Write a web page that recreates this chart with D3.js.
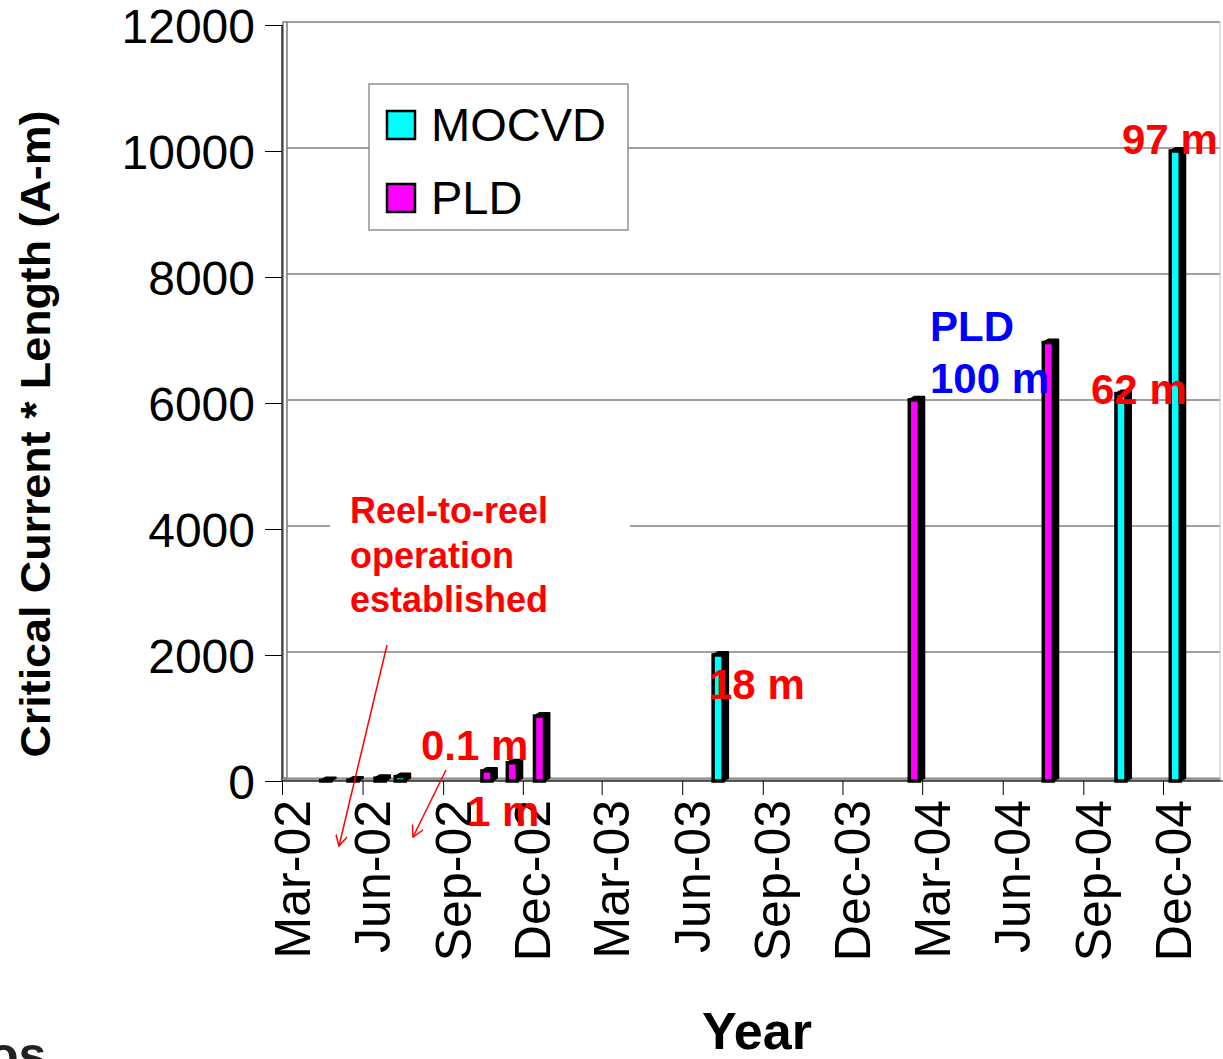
<!DOCTYPE html>
<html>
<head>
<meta charset="utf-8">
<script src="https://cdn.jsdelivr.net/npm/d3@7"></script>
<style>
  body { margin: 0; background: #fff; }
  text { font-family: Arial, "Liberation Sans", sans-serif; }
</style>
</head>
<body>
<div id="chart"></div>
<script>
// data
const seriesNames = ["MOCVD", "PLD"];
const seriesColors = ["#00ffff", "#ff00ff"];

const mocvdDates = ["2002-04-20", "2002-05-21", "2002-06-21", "2002-07-14", "2003-07-12", "2004-10-14", "2004-12-15"];
const mocvdValues = [8, 15, 45, 70, 2000, 6150, 10000];

const pldDates = ["2002-10-21", "2002-11-19", "2002-12-20", "2004-02-21", "2004-07-23"];
const pldValues = [160, 290, 1030, 6050, 6960];

const yTicks = [0, 2000, 4000, 6000, 8000, 10000, 12000];

const width = 1223, height = 1059;
const x0 = 282, x1 = 1163, plotRight = 1220;
const yTop = 25, yBase = 781;
const depth = {dx: 5, dy: 3};

const parse = d3.timeParse("%Y-%m-%d");

let svg = d3.select("#chart").append("svg")
  .attr("width", width)
  .attr("height", height);

let x = d3.scaleTime()
  .domain([new Date(2002, 2, 1), new Date(2004, 11, 1)])
  .range([x0, x1]);

let y = d3.scaleLinear()
  .domain([0, 12000])
  .range([yBase, yTop]);

// back wall gridlines
svg.append("g").selectAll("line")
  .data(yTicks.filter(d => d > 0))
  .join("line")
  .attr("x1", x0 + depth.dx).attr("x2", plotRight)
  .attr("y1", d => y(d) - depth.dy).attr("y2", d => y(d) - depth.dy)
  .attr("stroke", "#808080").attr("stroke-width", 1.3);

// little diagonals from front ticks to wall
svg.append("g").selectAll("line")
  .data(yTicks)
  .join("line")
  .attr("x1", x0).attr("x2", x0 + depth.dx)
  .attr("y1", d => y(d)).attr("y2", d => y(d) - depth.dy)
  .attr("stroke", "#808080");

// left wall (double line)
svg.append("rect")
  .attr("x", x0 + 1).attr("y", yTop - depth.dy)
  .attr("width", depth.dx - 1).attr("height", yBase - yTop)
  .attr("fill", "#fff").attr("stroke", "#808080").attr("stroke-width", 1.6);

// floor
svg.append("polygon")
  .attr("points", [[x0, yBase], [x0 + depth.dx, yBase - depth.dy], [plotRight, yBase - depth.dy], [plotRight, yBase]].join(" "))
  .attr("fill", "#a0a0a0").attr("stroke", "#808080");
svg.append("line")
  .attr("x1", plotRight).attr("x2", plotRight)
  .attr("y1", yTop - depth.dy).attr("y2", yBase)
  .attr("stroke", "#c0c0c0");

// y axis
let yAxis = svg.append("g")
  .attr("transform", `translate(${x0},0)`)
  .call(d3.axisLeft(y).tickValues(yTicks).tickSize(17).tickPadding(10).tickFormat(d3.format("d")));
yAxis.select(".domain").remove();
yAxis.selectAll("line").attr("stroke", "#000");
yAxis.selectAll("text")
  .attr("font-size", 48)
  .attr("fill", "#000")
  .attr("dy", "0.36em");
svg.append("line")
  .attr("x1", x0).attr("x2", x0).attr("y1", yTop).attr("y2", yBase)
  .attr("stroke", "#000").attr("stroke-width", 1.2);

// x axis
let xTicks = d3.timeMonths(new Date(2002, 2, 1), new Date(2004, 11, 2), 3);
let xAxis = svg.append("g")
  .attr("transform", `translate(0,${yBase})`)
  .call(d3.axisBottom(x).tickValues(xTicks).tickSize(14).tickFormat(d3.timeFormat("%b-%y")));
xAxis.select(".domain").attr("stroke", "#000").attr("d", `M${x0},0H${plotRight + 3}`);
xAxis.selectAll("line").attr("stroke", "#000");
xAxis.selectAll("text")
  .attr("font-size", 50)
  .attr("fill", "#000")
  .attr("text-anchor", "end")
  .attr("transform", "translate(9,19) rotate(-90)")
  .attr("x", 0).attr("y", 0)
  .attr("dy", "0.36em");

// bars
const barW = 10;
function drawBars(dates, values, color) {
  let rows = dates.map((d, i) => ({date: parse(d), value: values[i]}));
  let g = svg.append("g").selectAll("g").data(rows).join("g");
  g.append("polygon")  // side + top
    .attr("points", d => {
      let bx = x(d.date) - barW / 2, by = y(d.value);
      return [[bx, by], [bx + depth.dx, by - depth.dy], [bx + barW + depth.dx, by - depth.dy],
              [bx + barW + depth.dx, yBase - depth.dy], [bx + barW, yBase], [bx, yBase]].join(" ");
    })
    .attr("fill", "#000").attr("stroke", "#000").attr("stroke-width", 2).attr("stroke-linejoin", "round");
  g.append("rect")
    .attr("x", d => x(d.date) - barW / 2)
    .attr("y", d => y(d.value))
    .attr("width", barW)
    .attr("height", d => yBase - y(d.value))
    .attr("fill", color)
    .attr("stroke", "#000").attr("stroke-width", 3.5);
}
drawBars(mocvdDates, mocvdValues, seriesColors[0]);
drawBars(pldDates, pldValues, seriesColors[1]);

// legend
let legend = svg.append("g").attr("transform", "translate(369,84)");
legend.append("rect")
  .attr("width", 259).attr("height", 146)
  .attr("fill", "#fff").attr("stroke", "#808080").attr("stroke-width", 1.3);
let items = legend.selectAll("g.item").data(seriesNames).join("g")
  .attr("class", "item")
  .attr("transform", (d, i) => `translate(18,${27 + i * 73})`);
items.append("rect")
  .attr("width", 28).attr("height", 28)
  .attr("fill", (d, i) => seriesColors[i])
  .attr("stroke", "#000").attr("stroke-width", 2.5);
items.append("text")
  .attr("x", 44).attr("y", 30)
  .attr("font-size", 47)
  .text(d => d);

// annotations
const red = "#ff0000", blue = "#0000ff";
svg.append("rect").attr("x", 330).attr("y", 490).attr("width", 300).attr("height", 130).attr("fill", "#fff");
let notes = [
  {t: "Reel-to-reel", x: 350, y: 523, c: red, s: 36},
  {t: "operation", x: 350, y: 568, c: red, s: 36},
  {t: "established", x: 350, y: 612, c: red, s: 36},
  {t: "0.1 m", x: 421, y: 760, c: red, s: 42},
  {t: "1 m", x: 467, y: 826, c: red, s: 42},
  {t: "18 m", x: 709, y: 699, c: red, s: 42},
  {t: "PLD", x: 930, y: 341, c: blue, s: 42},
  {t: "100 m", x: 930, y: 393, c: blue, s: 42},
  {t: "62 m", x: 1091, y: 404, c: red, s: 42},
  {t: "97 m", x: 1122, y: 154, c: red, s: 42}
];
svg.append("g").selectAll("text").data(notes).join("text")
  .attr("x", d => d.x).attr("y", d => d.y)
  .attr("fill", d => d.c)
  .attr("font-size", d => d.s)
  .attr("font-weight", "bold")
  .text(d => d.t);

// arrows
svg.append("defs").append("marker")
  .attr("id", "arrow")
  .attr("viewBox", "0 0 12 12").attr("refX", 11).attr("refY", 6)
  .attr("markerWidth", 12).attr("markerHeight", 12)
  .attr("markerUnits", "userSpaceOnUse")
  .attr("orient", "auto")
  .append("path").attr("d", "M0,0L11,6L0,12").attr("fill", "none").attr("stroke", red).attr("stroke-width", 1.5);
let arrows = [[387, 645, 339, 846], [446, 770, 413, 837]];
svg.append("g").selectAll("line").data(arrows).join("line")
  .attr("x1", d => d[0]).attr("y1", d => d[1])
  .attr("x2", d => d[2]).attr("y2", d => d[3])
  .attr("stroke", red).attr("stroke-width", 1.5)
  .attr("marker-end", "url(#arrow)");

// axis titles
svg.append("text")
  .attr("transform", "translate(50,434) rotate(-90)")
  .attr("text-anchor", "middle")
  .attr("font-size", 42).attr("font-weight", "bold")
  .attr("textLength", 647).attr("lengthAdjust", "spacingAndGlyphs")
  .text("Critical Current * Length (A-m)");
svg.append("text")
  .attr("x", 757).attr("y", 1049)
  .attr("text-anchor", "middle")
  .attr("font-size", 52).attr("font-weight", "bold")
  .text("Year");

// fragment of a logo at the bottom left edge
svg.append("text")
  .attr("x", -12).attr("y", 1072)
  .attr("font-size", 50).attr("font-weight", "bold")
  .attr("fill", "#222")
  .text("os");
</script>
</body>
</html>
